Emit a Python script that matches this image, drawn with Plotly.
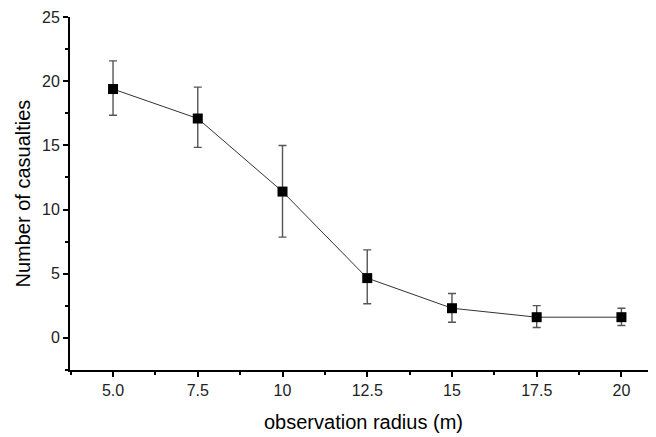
import plotly.graph_objects as go

radius = [5.0, 7.5, 10.0, 12.5, 15.0, 17.5, 20.0]
casualties = [19.4, 17.1, 11.4, 4.65, 2.3, 1.6, 1.6]
err_upper = [21.6, 19.55, 15.0, 6.85, 3.45, 2.5, 2.3]
err_lower = [17.35, 14.85, 7.85, 2.65, 1.2, 0.8, 0.95]
x_tick_vals = [5.0, 7.5, 10.0, 12.5, 15.0, 17.5, 20.0]
x_tick_text = ["5.0", "7.5", "10", "12.5", "15", "17.5", "20"]
y_tick_vals = [0, 5, 10, 15, 20, 25]
x_title = "observation radius (m)"
y_title = "Number of casualties"

plus = [u - c for u, c in zip(err_upper, casualties)]
minus = [c - l for l, c in zip(err_lower, casualties)]

fig = go.Figure()
fig.add_trace(go.Scatter(
    x=radius, y=casualties, mode="lines+markers",
    line=dict(color="#333333", width=1),
    marker=dict(symbol="square", size=10, color="black"),
    error_y=dict(type="data", symmetric=False, array=plus, arrayminus=minus,
                 color="#555555", thickness=1.4, width=4),
    showlegend=False,
))

font = "Liberation Sans, Arial, sans-serif"
# the page body has an 8px margin, so the figure is 8px smaller than the window
fig.update_layout(
    width=648, height=429,
    margin=dict(l=62, r=0, t=9, b=67),
    paper_bgcolor="white", plot_bgcolor="white",
    font=dict(family=font, color="#222222"),
)
fig.update_xaxes(
    range=[3.73, 21.02], showgrid=False, zeroline=False, automargin=False,
    showline=True, linecolor="black", linewidth=2,
    tickmode="array", tickvals=x_tick_vals, ticktext=x_tick_text,
    ticks="outside", ticklen=5, tickwidth=2, tickcolor="black",
    tickfont=dict(size=16, family=font, color="#222222"),
    minor=dict(tickmode="array", tickvals=[3.75, 6.25, 8.75, 11.25, 13.75, 16.25, 18.75],
               ticks="outside", ticklen=3, tickwidth=2, tickcolor="black"),
)
fig.update_yaxes(
    range=[-2.52, 25.02], showgrid=False, zeroline=False, automargin=False,
    showline=True, linecolor="black", linewidth=2,
    tickmode="array", tickvals=y_tick_vals,
    ticks="outside", ticklen=5, tickwidth=2, tickcolor="black",
    tickfont=dict(size=16, family=font, color="#222222"),
    ticklabeloverflow="allow",
    minor=dict(tickmode="array", tickvals=[-2.5, 2.5, 7.5, 12.5, 17.5, 22.5],
               ticks="outside", ticklen=3, tickwidth=2, tickcolor="black"),
)
fig.add_annotation(text=x_title, xref="paper", yref="paper", x=0.5, y=0,
                   yshift=-52, xanchor="center", yanchor="middle", showarrow=False,
                   font=dict(size=20, family=font, color="black"))
fig.add_annotation(text=y_title, xref="paper", yref="paper", x=0, y=0.5,
                   xshift=-48, xanchor="center", yanchor="middle", showarrow=False,
                   textangle=-90, font=dict(size=20, family=font, color="black"))

fig.write_html("out.html")
